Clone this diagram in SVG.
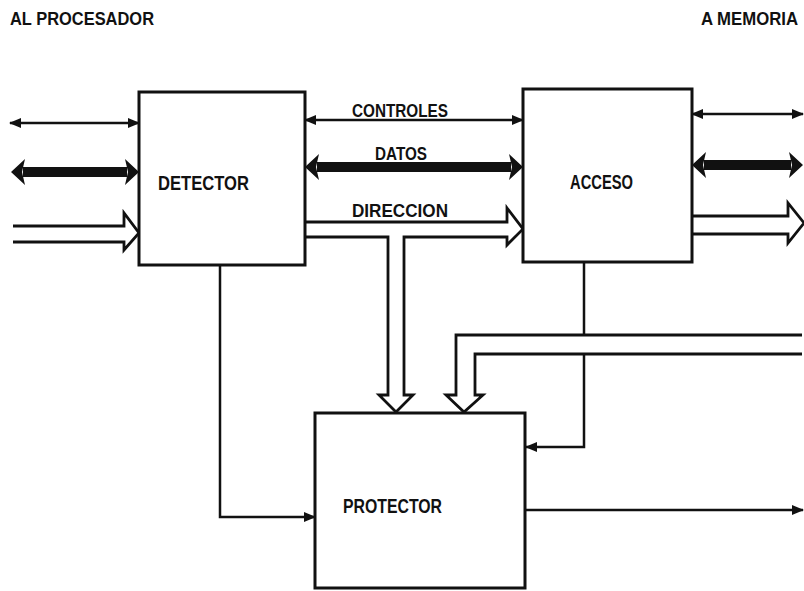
<svg xmlns="http://www.w3.org/2000/svg" width="804" height="591" viewBox="0 0 804 591">
<style>
.box{fill:#fff;stroke:#111;stroke-width:3}
.ln{fill:none;stroke:#111;stroke-width:2.5}
.thk{fill:none;stroke:#111;stroke-width:10}
.bus{fill:#fff;stroke:#111;stroke-width:2.8;stroke-linejoin:miter}
text{font-family:"Liberation Sans",Arial,sans-serif;font-weight:bold;fill:#111}
.lbl{font-size:20px}
.sm{font-size:18px}
</style>
<defs>
<marker id="ah" viewBox="0 0 12 10" refX="11" refY="5" markerWidth="12" markerHeight="10" markerUnits="userSpaceOnUse" orient="auto-start-reverse">
<path d="M0,0 L12,5 L0,10 z" fill="#111"/>
</marker>
<marker id="ahb" viewBox="0 0 14 26" refX="2" refY="13" markerWidth="14" markerHeight="26" markerUnits="userSpaceOnUse" orient="auto-start-reverse">
<path d="M0,0 L14,13 L0,26 L3,13 z" fill="#111"/>
</marker>
</defs>
<rect width="804" height="591" fill="#fff"/>
<g id="header">
<text class="sm" x="10" y="25" textLength="144" lengthAdjust="spacingAndGlyphs">AL PROCESADOR</text>
<text class="sm" x="701" y="25" textLength="97" lengthAdjust="spacingAndGlyphs">A MEMORIA</text>
</g>
<g id="connectors">
<line class="ln" x1="10" y1="123" x2="139" y2="123" marker-start="url(#ah)" marker-end="url(#ah)"/>
<line class="thk" x1="23" y1="172" x2="127" y2="172" marker-start="url(#ahb)" marker-end="url(#ahb)"/>
<path class="bus" d="M13,226 H124 V213 L139,233 L124,250 V242 H13"/>
<line class="ln" x1="305" y1="120" x2="523" y2="120" marker-start="url(#ah)" marker-end="url(#ah)"/>
<line class="thk" x1="317" y1="167" x2="511" y2="167" marker-start="url(#ahb)" marker-end="url(#ahb)"/>
<path class="bus" d="M305,222 H507 V208 L523,229 L507,245 V237 H404 V395 H413 L396,412 L379,395 H388 V237 H305"/>
<path class="ln" d="M584,262 V447 H526" marker-end="url(#ah)"/>
<path class="bus" d="M802,335 H456 V395 H446 L464,412 L483,395 H475 V354 H802"/>
<path class="ln" d="M220,265 V517 H315" marker-end="url(#ah)"/>
<path class="ln" d="M525,510 H803" marker-end="url(#ah)"/>
<line class="ln" x1="692" y1="114" x2="803" y2="114" marker-start="url(#ah)" marker-end="url(#ah)"/>
<line class="thk" x1="704" y1="165" x2="791" y2="165" marker-start="url(#ahb)" marker-end="url(#ahb)"/>
<path class="bus" d="M692,216 H788 V203 L804,223 L788,243 V234 H692"/>
<text class="sm" x="352" y="117" textLength="96" lengthAdjust="spacingAndGlyphs">CONTROLES</text>
<text class="sm" x="375" y="160" textLength="52" lengthAdjust="spacingAndGlyphs">DATOS</text>
<text class="sm" x="352" y="217" textLength="96" lengthAdjust="spacingAndGlyphs">DIRECCION</text>
</g>
<g id="detector">
<rect class="box" x="139" y="92" width="166" height="173"/>
<text class="lbl" x="158" y="190" textLength="91" lengthAdjust="spacingAndGlyphs">DETECTOR</text>
</g>
<g id="acceso">
<rect class="box" x="523" y="89" width="169" height="173"/>
<text class="lbl" x="570" y="189" textLength="63" lengthAdjust="spacingAndGlyphs">ACCESO</text>
</g>
<g id="protector">
<rect class="box" x="315" y="413" width="210" height="175"/>
<text class="lbl" x="343" y="513" textLength="99" lengthAdjust="spacingAndGlyphs">PROTECTOR</text>
</g>
</svg>
